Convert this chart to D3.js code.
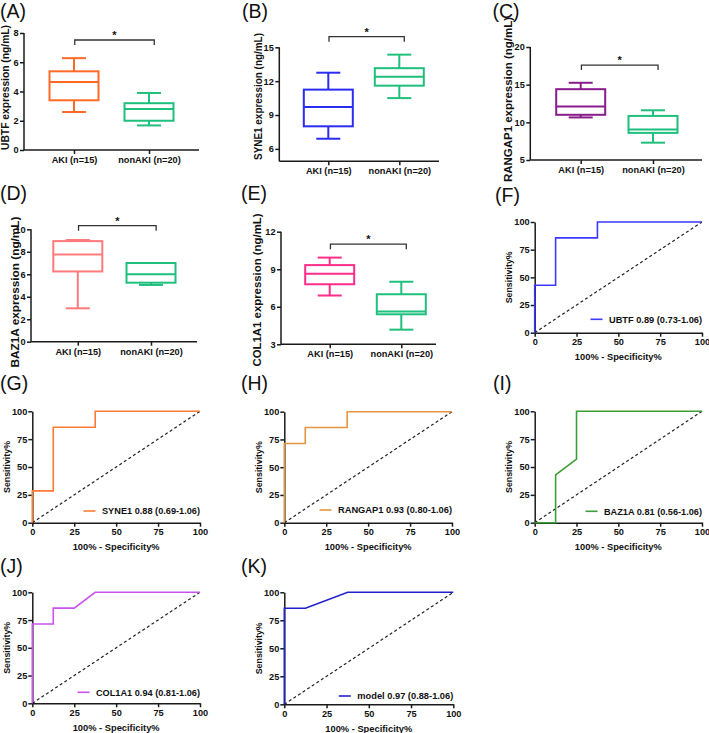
<!DOCTYPE html>
<html><head><meta charset="utf-8">
<script src="https://cdn.jsdelivr.net/npm/d3@7"></script>
<style>
body{margin:0;background:#fff}
svg{display:block}
text{font-family:"Liberation Sans",Arial,Helvetica,sans-serif}
</style>
</head><body>
<svg id="c" width="709" height="733"></svg>
<script>
// ---------------- DATA ----------------
const boxCategories = ["AKI (n=15)", "nonAKI (n=20)"];
// five-number summaries: [min, q1, median, q3, max]
const ubtfAKI    = [2.6, 3.4, 4.65, 5.38, 6.28];
const ubtfNon    = [1.68, 2.0, 2.8, 3.2, 3.9];
const syne1AKI   = [6.9, 8.0, 9.7, 11.25, 12.75];
const syne1Non   = [10.5, 11.6, 12.4, 13.15, 14.35];
const rangap1AKI = [10.65, 11.0, 12.1, 14.4, 15.25];
const rangap1Non = [7.3, 8.6, 9.05, 10.85, 11.6];
const baz1aAKI   = [2.97, 6.25, 7.75, 8.95, 9.05];
const baz1aNon   = [5.05, 5.25, 6.0, 7.0, 7.0];
const col1a1AKI  = [6.9, 7.8, 8.63, 9.33, 9.93];
const col1a1Non  = [4.17, 5.4, 5.63, 7.0, 8.0];

const boxYTitles = ["UBTF expression (ng/mL)", "SYNE1 expression (ng/mL)",
  "RANGAP1 expression (ng/mL)", "BAZ1A expression (ng/mL)", "COL1A1 expression (ng/mL)"];
const boxYDomains = [[0, 8], [4.9, 15], [5, 20], [0, 10], [3, 12]];
const boxYTicks = [[0, 2, 4, 6, 8], [6, 9, 12, 15], [5, 10, 15, 20], [0, 2, 4, 6, 8, 10], [3, 6, 9, 12]];
const sigBracketY = [7.52, 15.94, 17.6, 10.32, 11.0];
const sigLabel = "*";

// ROC curves: x = 100% - specificity%, y = sensitivity%
const rocUBTFx    = [0, 0, 12.5, 12.5, 37.5, 37.5, 100];
const rocUBTFy    = [0, 42.9, 42.9, 85.7, 85.7, 100, 100];
const rocSYNE1x   = [0, 0, 12.5, 12.5, 37.5, 37.5, 100];
const rocSYNE1y   = [0, 28.6, 28.6, 85.7, 85.7, 100, 100];
const rocRANGAP1x = [0, 0, 12.5, 12.5, 37.5, 37.5, 100];
const rocRANGAP1y = [0, 71.4, 71.4, 85.7, 85.7, 100, 100];
const rocBAZ1Ax   = [0, 12.5, 12.5, 25, 25, 100];
const rocBAZ1Ay   = [0, 0, 42.9, 57.1, 100, 100];
const rocCOL1A1x  = [0, 0, 12.5, 12.5, 25, 37.5, 100];
const rocCOL1A1y  = [0, 71.4, 71.4, 85.7, 85.7, 100, 100];
const rocModelx   = [0, 0, 12.5, 37.5, 100];
const rocModely   = [0, 85.7, 85.7, 100, 100];
const rocLegends = ["UBTF 0.89 (0.73-1.06)", "SYNE1 0.88 (0.69-1.06)", "RANGAP1 0.93 (0.80-1.06)",
  "BAZ1A 0.81 (0.56-1.06)", "COL1A1 0.94 (0.81-1.06)", "model 0.97 (0.88-1.06)"];
const rocTicks = [0, 25, 50, 75, 100];
const rocXTitle = "100% - Specificity%";
const rocYTitle = "Sensitivity%";
const panelLetters = ["(A)", "(B)", "(C)", "(D)", "(E)", "(F)", "(G)", "(H)", "(I)", "(J)", "(K)"];

// ---------------- STYLE / LAYOUT ----------------
const GREEN = "#1FBF7D";
const AXIS = "#1a1a1a";
const svg = d3.select("#c");
svg.append("rect").attr("width", 709).attr("height", 733).attr("fill", "#fff");

const boxLayouts = [
  {data: [ubtfAKI, ubtfNon], colors: ["#FF6A28", GREEN], xl: 24, xr: 199, c1: 74, c2: 149, yb: 150, yt: 33, tx: 9, ty: 87.5, fs: 10, tl: 125},
  {data: [syne1AKI, syne1Non], colors: ["#2B2BF2", GREEN], xl: 279.3, xr: 439, c1: 328.3, c2: 399.3, yb: 161.3, yt: 47.3, tx: 261.5, ty: 96.5, fs: 10, tl: 127},
  {data: [rangap1AKI, rangap1Non], colors: ["#8A1C8C", GREEN], xl: 530.3, xr: 702, c1: 580.7, c2: 653, yb: 160, yt: 47, tx: 512, ty: 99.5, fs: 11.4, tl: 165},
  {data: [baz1aAKI, baz1aNon], colors: ["#FF7B7B", GREEN], xl: 31, xr: 197, c1: 77.8, c2: 151, yb: 341.7, yt: 229.3, tx: 18.5, ty: 292, fs: 11.4, tl: 151},
  {data: [col1a1AKI, col1a1Non], colors: ["#FF2C8A", GREEN], xl: 281, xr: 436, c1: 329.7, c2: 401.3, yb: 344.3, yt: 231.7, tx: 261, ty: 290, fs: 11.2, tl: 153}
];

const rocLayouts = [
  {x: rocUBTFx, y: rocUBTFy, color: "#3A3AFF", xl: 534.7, xr: 702, yb: 332.7, yt: 222, ly: -13.4, tl: 93},
  {x: rocSYNE1x, y: rocSYNE1y, color: "#FF7A35", xl: 32.3, xr: 200, yb: 522.7, yt: 411.3, ly: -11.7, tl: 98},
  {x: rocRANGAP1x, y: rocRANGAP1y, color: "#E2963F", xl: 284.3, xr: 452, yb: 522.7, yt: 411.7, ly: -12.7, tl: 114},
  {x: rocBAZ1Ax, y: rocBAZ1Ay, color: "#3C9E36", xl: 534.7, xr: 702, yb: 522.7, yt: 411.3, ly: -11.4, tl: 98},
  {x: rocCOL1A1x, y: rocCOL1A1y, color: "#CC52EE", xl: 32.3, xr: 200, yb: 703.3, yt: 592.3, ly: -11, tl: 104},
  {x: rocModelx, y: rocModely, color: "#2222CC", xl: 284.3, xr: 453.3, yb: 704.3, yt: 592.3, ly: -8.3, tl: 96}
];

const letterPos = [[0, 18], [242, 18], [492.5, 18], [0, 200], [241, 200], [495, 202],
  [0, 390], [241, 390], [493, 390], [0, 573], [241, 573]];

// ---------------- DRAW ----------------
panelLetters.forEach((t, i) => {
  svg.append("text").attr("x", letterPos[i][0]).attr("y", letterPos[i][1])
    .attr("font-size", 19.5).attr("fill", "#111").text(t);
});

function styleAxis(g) {
  g.selectAll("path.domain").attr("stroke", AXIS).attr("stroke-width", 1.5);
  g.selectAll(".tick line").attr("stroke", AXIS).attr("stroke-width", 1.5);
  g.selectAll(".tick text").attr("font-size", 9.2).attr("font-weight", "bold").attr("fill", "#111");
}

boxLayouts.forEach((L, i) => {
  const g = svg.append("g");
  const x = d3.scalePoint().domain(boxCategories).range([L.c1, L.c2]);
  const y = d3.scaleLinear().domain(boxYDomains[i]).range([L.yb, L.yt]);
  const step = L.c2 - L.c1;
  const bw = 49, cw = 24;

  // y axis
  const ya = g.append("g").attr("transform", `translate(${L.xl},0)`)
    .call(d3.axisLeft(y).tickValues(boxYTicks[i]).tickSize(4).tickSizeOuter(0).tickPadding(1.5));
  ya.select("path.domain").attr("d", `M0,${L.yb}V${y(boxYDomains[i][1])}`);
  styleAxis(ya);
  // x axis
  const xa = g.append("g").attr("transform", `translate(0,${L.yb})`)
    .call(d3.axisBottom(x).tickSize(4).tickSizeOuter(0).tickPadding(2.5));
  xa.select("path.domain").attr("d", `M${L.xl},0H${L.xr}`);
  styleAxis(xa);

  // y title
  g.append("text").attr("transform", `translate(${L.tx},${L.ty}) rotate(-90)`)
    .attr("text-anchor", "middle").attr("font-size", L.fs).attr("font-weight", "bold")
    .attr("textLength", L.tl).attr("lengthAdjust", "spacingAndGlyphs")
    .attr("fill", "#111").text(boxYTitles[i]);

  // boxes
  L.data.forEach((d, j) => {
    const cx = x(boxCategories[j]);
    const col = L.colors[j];
    const [mn, q1, md, q3, mx] = d;
    const bg = g.append("g").attr("stroke", col).attr("stroke-width", 2).attr("fill", "none");
    bg.append("line").attr("x1", cx).attr("x2", cx).attr("y1", y(mn)).attr("y2", y(q1));
    bg.append("line").attr("x1", cx).attr("x2", cx).attr("y1", y(q3)).attr("y2", y(mx));
    bg.append("line").attr("x1", cx - cw / 2).attr("x2", cx + cw / 2).attr("y1", y(mn)).attr("y2", y(mn));
    bg.append("line").attr("x1", cx - cw / 2).attr("x2", cx + cw / 2).attr("y1", y(mx)).attr("y2", y(mx));
    bg.append("rect").attr("x", cx - bw / 2).attr("width", bw).attr("y", y(q3)).attr("height", y(q1) - y(q3))
      .attr("fill", "#fff");
    bg.append("line").attr("x1", cx - bw / 2).attr("x2", cx + bw / 2).attr("y1", y(md)).attr("y2", y(md));
  });

  // significance bracket
  const by = y(sigBracketY[i]);
  const bx1 = x(boxCategories[0]) + 0.01 * step, bx2 = x(boxCategories[1]) + 0.07 * step;
  g.append("path").attr("d", `M${bx1},${by + 5}V${by}H${bx2}V${by + 5}`)
    .attr("fill", "none").attr("stroke", "#333").attr("stroke-width", 1.3);
  g.append("text").attr("x", (bx1 + bx2) / 2).attr("y", by - 1).attr("text-anchor", "middle")
    .attr("font-size", 11).attr("font-weight", "bold").attr("fill", "#111").text(sigLabel);
});

rocLayouts.forEach((L, i) => {
  const g = svg.append("g");
  const x = d3.scaleLinear().domain([0, 100]).range([L.xl, L.xr]);
  const y = d3.scaleLinear().domain([0, 100]).range([L.yb, L.yt]);

  const xa = g.append("g").attr("transform", `translate(0,${L.yb})`)
    .call(d3.axisBottom(x).tickValues(rocTicks).tickSize(4).tickSizeOuter(0).tickPadding(1.8));
  styleAxis(xa);
  const ya = g.append("g").attr("transform", `translate(${L.xl},0)`)
    .call(d3.axisLeft(y).tickValues(rocTicks).tickSize(4).tickSizeOuter(0).tickPadding(1));
  styleAxis(ya);

  // reference diagonal
  g.append("line").attr("x1", x(0)).attr("y1", y(0)).attr("x2", x(100)).attr("y2", y(100))
    .attr("stroke", "#222").attr("stroke-width", 1.2).attr("stroke-dasharray", "3,2.5");

  // ROC curve
  const pts = L.x.map((v, k) => [v, L.y[k]]);
  g.append("path").attr("d", d3.line().x(p => x(p[0])).y(p => y(p[1]))(pts))
    .attr("fill", "none").attr("stroke", L.color).attr("stroke-width", 1.6);

  // titles
  g.append("text").attr("x", (L.xl + L.xr) / 2).attr("y", L.yb + 27.5).attr("text-anchor", "middle")
    .attr("font-size", 9.3).attr("font-weight", "bold").attr("fill", "#111")
    .attr("textLength", 87).attr("lengthAdjust", "spacingAndGlyphs").text(rocXTitle);
  g.append("text").attr("transform", `translate(${L.xl - 22.5},${(L.yb + L.yt) / 2}) rotate(-90)`)
    .attr("text-anchor", "middle").attr("font-size", 9).attr("font-weight", "bold")
    .attr("textLength", 52).attr("lengthAdjust", "spacingAndGlyphs")
    .attr("fill", "#111").text(rocYTitle);

  // legend
  const ly = L.yb + L.ly;
  const tx0 = L.xr - L.tl;
  g.append("text").attr("x", tx0).attr("y", ly + 3.4)
    .attr("font-size", 9.5).attr("font-weight", "bold").attr("fill", "#111")
    .attr("textLength", L.tl).attr("lengthAdjust", "spacingAndGlyphs").text(rocLegends[i]);
  g.append("line").attr("x1", tx0 - 18.5).attr("x2", tx0 - 6.5).attr("y1", ly).attr("y2", ly)
    .attr("stroke", L.color).attr("stroke-width", 1.6);
});
</script>
</body></html>
